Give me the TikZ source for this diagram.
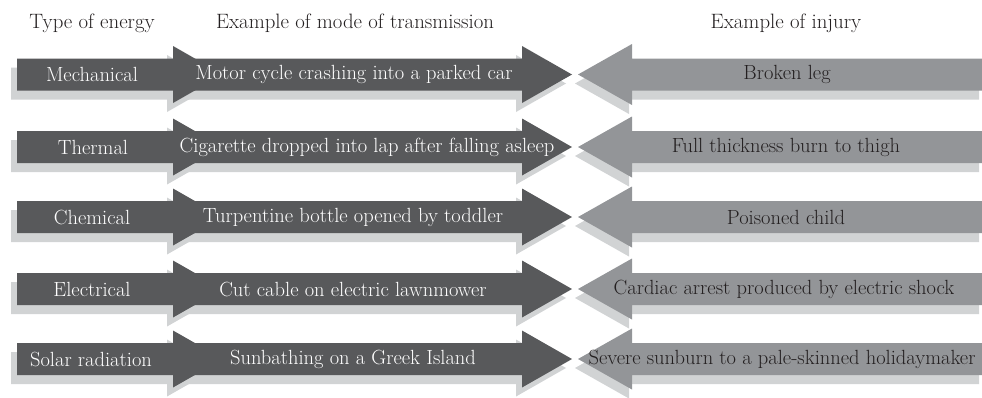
\documentclass[tikz,border=0pt]{standalone}
\usetikzlibrary{calc}
\definecolor{arrowdark}{RGB}{88,89,91}
\definecolor{arrowlight}{RGB}{147,149,152}
\definecolor{shadowgray}{RGB}{209,211,212}
\definecolor{inkblack}{RGB}{35,31,32}
% right-pointing arrow: tail x, head base x, tip x, centre y
\newcommand\fwdshape[4]{(#1,{#4-16}) -- (#2,{#4-16}) -- (#2,{#4-28.5}) -- (#3,#4) -- (#2,{#4+28.5}) -- (#2,{#4+16}) -- (#1,{#4+16}) -- cycle}
% left-pointing arrow: tip x, head base x, tail x, centre y
\newcommand\backshape[4]{(#1,#4) -- (#2,{#4-30.5}) -- (#2,{#4-16}) -- (#3,{#4-16}) -- (#3,{#4+16}) -- (#2,{#4+16}) -- (#2,{#4+30.5}) -- cycle}
\tikzset{
  header/.style={text=inkblack,font=\fontsize{20.8}{24}\selectfont,inner sep=0pt},
  lighttext/.style={text=white,font=\fontsize{20.5}{24}\selectfont,inner sep=0pt},
  darktext/.style={text=inkblack,font=\fontsize{20.5}{24}\selectfont,inner sep=0pt},
  fwdshadow/.style={fill=shadowgray,xshift=-6pt,yshift=-9pt},
  backshadow/.style={fill=shadowgray,xshift=-3pt,yshift=-9pt},
}
\begin{document}
\begin{tikzpicture}[x=1pt,y=-1pt]
\useasboundingbox (0,0) rectangle (982,397);
% column headings
\node[header] (h1) at (92,23) {Type of energy};
\node[header] (h2) at (355,23) {Example of mode of transmission};
\node[header] (h3) at (786,23) {Example of injury};
% shadows
\foreach \yc in {74.5,147,217,289,359} {
  \fill[fwdshadow] \fwdshape{173}{522}{572}{\yc};
  \fill[fwdshadow] \fwdshape{17}{173}{223}{\yc};
  \fill[backshadow] \backshape{578}{632}{982}{\yc};
}
% arrows
\foreach \yc in {74.5,147,217,289,359} {
  \fill[arrowdark] \fwdshape{173}{522}{572}{\yc};
  \fill[arrowdark] \fwdshape{17}{173}{223}{\yc};
  \fill[arrowlight] \backshape{578}{632}{982}{\yc};
}
% row 1
\node[lighttext] (e1) at (92,74.5) {Mechanical};
\node[lighttext] (m1) at (354,74.5) {Motor cycle crashing into a parked car};
\node[darktext] (i1) at (787,74.5) {Broken leg};
% row 2
\node[lighttext] (e2) at (93,147) {Thermal};
\node[lighttext] (m2) at (367,147) {Cigarette dropped into lap after falling asleep};
\node[darktext] (i2) at (786,147) {Full thickness burn to thigh};
% row 3
\node[lighttext] (e3) at (92,217) {Chemical};
\node[lighttext] (m3) at (353,217) {Turpentine bottle opened by toddler};
\node[darktext] (i3) at (786,217) {Poisoned child};
% row 4
\node[lighttext] (e4) at (92,289) {Electrical};
\node[lighttext] (m4) at (353,289) {Cut cable on electric lawnmower};
\node[darktext] (i4) at (784,289) {Cardiac arrest produced by electric shock};
% row 5
\node[lighttext] (e5) at (91,359) {Solar radiation};
\node[lighttext] (m5) at (353,359) {Sunbathing on a Greek Island};
\node[darktext] (i5) at (782,359) {Severe sunburn to a pale-skinned holidaymaker};
\end{tikzpicture}
\end{document}
